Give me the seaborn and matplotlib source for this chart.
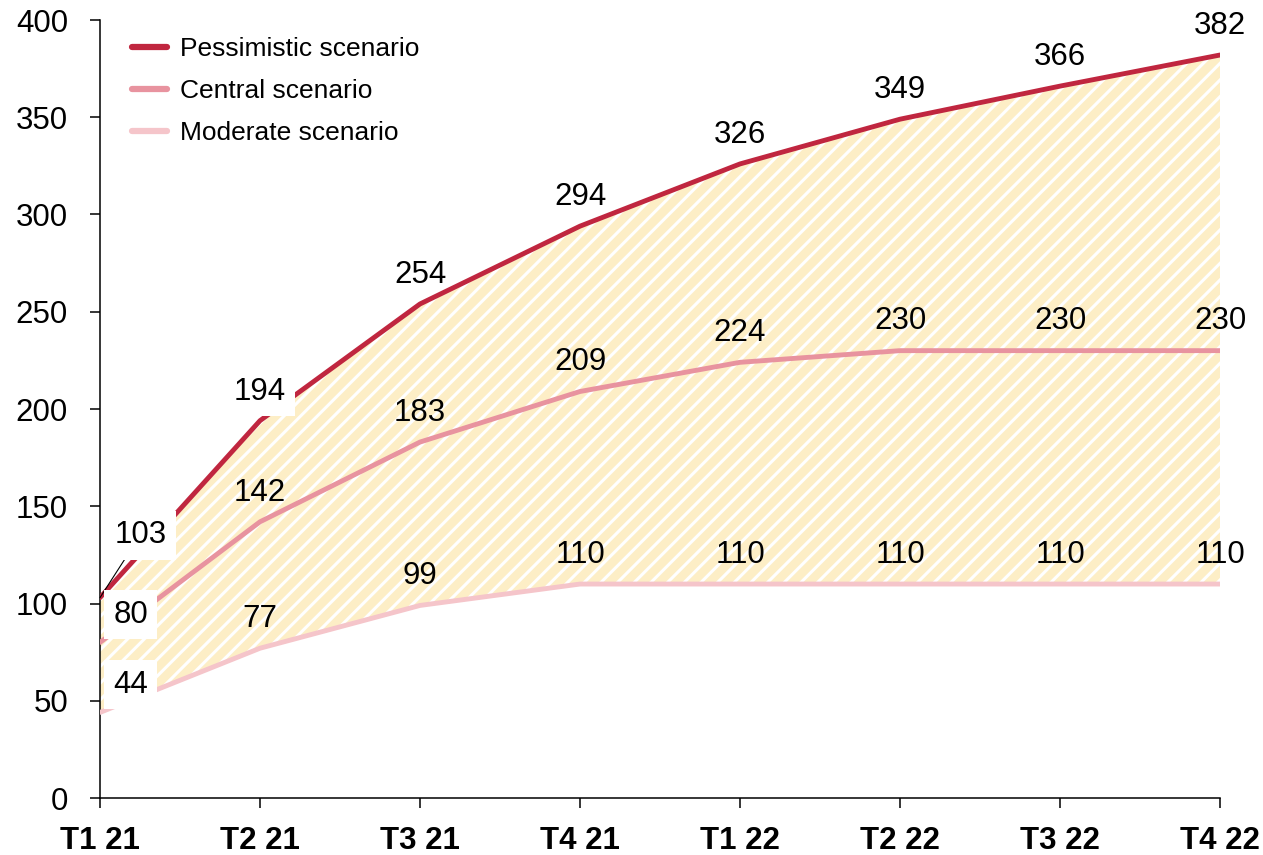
import matplotlib
matplotlib.use("Agg")
import matplotlib.pyplot as plt
import numpy as np
import pandas as pd
import seaborn as sns

# Quarterly scenarios
quarters = ["T1 21", "T2 21", "T3 21", "T4 21", "T1 22", "T2 22", "T3 22", "T4 22"]
pessimistic = [103, 194, 254, 294, 326, 349, 366, 382]
central = [80, 142, 183, 209, 224, 230, 230, 230]
moderate = [44, 77, 99, 110, 110, 110, 110, 110]

series_names = ["Pessimistic scenario", "Central scenario", "Moderate scenario"]
series_values = [pessimistic, central, moderate]
series_colors = ["#C0263F", "#E8939F", "#F5C5CA"]

sns.set_style("ticks")
plt.rcParams["font.family"] = ["Liberation Sans", "DejaVu Sans"]
plt.rcParams["text.color"] = "black"
plt.rcParams["xtick.color"] = "black"
plt.rcParams["ytick.color"] = "black"
plt.rcParams["xtick.labelcolor"] = "black"
plt.rcParams["ytick.labelcolor"] = "black"
plt.rcParams["hatch.linewidth"] = 2.2

fig = plt.figure(figsize=(12.63, 8.55), dpi=100)
ax = fig.add_axes([100 / 1263, 57 / 855, 1120 / 1263, 778 / 855])

x = np.arange(len(quarters))
frames = []
for name, vals in zip(series_names, series_values):
    frames.append(pd.DataFrame({"quarter": x, "value": vals, "scenario": name}))
df = pd.concat(frames, ignore_index=True)

# Hatched band between the pessimistic and moderate paths
ax.fill_between(x, moderate, pessimistic, facecolor="#FDEEC6", edgecolor="white",
                hatch="//", linewidth=0, zorder=1)

sns.lineplot(data=df, x="quarter", y="value", hue="scenario",
             hue_order=series_names, palette=series_colors,
             linewidth=3.5, ax=ax, legend=True, zorder=3)

ax.set_xlim(0, len(quarters) - 1)
ax.set_ylim(0, 400)
ax.set_yticks(np.arange(0, 401, 50))
ax.set_xticks(x)
ax.set_xticklabels(quarters, fontweight="bold")
ax.set_xlabel("")
ax.set_ylabel("")
ax.tick_params(axis="y", labelsize=22.5, length=7, width=1.1, pad=16, color="black")
ax.tick_params(axis="x", labelsize=22.5, length=7, width=1.1, pad=13, color="black")
for side in ["top", "right"]:
    ax.spines[side].set_visible(False)
for side in ["left", "bottom"]:
    ax.spines[side].set_color("black")
    ax.spines[side].set_linewidth(1.1)

# Value labels
boxed = dict(boxstyle="square,pad=0.3", facecolor="white", edgecolor="none")
for vals in series_values:
    for i, v in enumerate(vals):
        if i == 0:
            continue
        bbox = boxed if (vals is pessimistic and i == 1) else None
        ax.annotate(str(v), (i, v), xytext=(0, 21), textcoords="offset points",
                    ha="center", va="center", fontsize=22.5, color="black",
                    zorder=5, bbox=bbox)

# First-quarter labels sit to the right of the axis
ax.annotate(str(pessimistic[0]), (0, pessimistic[0]), xytext=(29, 45),
            textcoords="offset points", ha="center", va="center", fontsize=22.5,
            color="black", bbox=boxed, zorder=5,
            arrowprops=dict(arrowstyle="-", color="black", lw=0.8,
                            shrinkA=0, shrinkB=0))
ax.annotate(str(central[0]), (0, central[0]), xytext=(22, 20),
            textcoords="offset points", ha="center", va="center", fontsize=22.5,
            color="black", bbox=boxed, zorder=5)
ax.annotate(str(moderate[0]), (0, moderate[0]), xytext=(22, 20),
            textcoords="offset points", ha="center", va="center", fontsize=22.5,
            color="black", bbox=boxed, zorder=5)

leg = ax.legend(loc="upper left", bbox_to_anchor=(0.014, 0.998), frameon=False,
                fontsize=19, handlelength=1.35, handletextpad=0.5,
                labelspacing=0.68, borderaxespad=0.2)
for line in leg.get_lines():
    line.set_linewidth(4.5)
for t in leg.get_texts():
    t.set_color("black")

fig.savefig("out.png", dpi=100)
